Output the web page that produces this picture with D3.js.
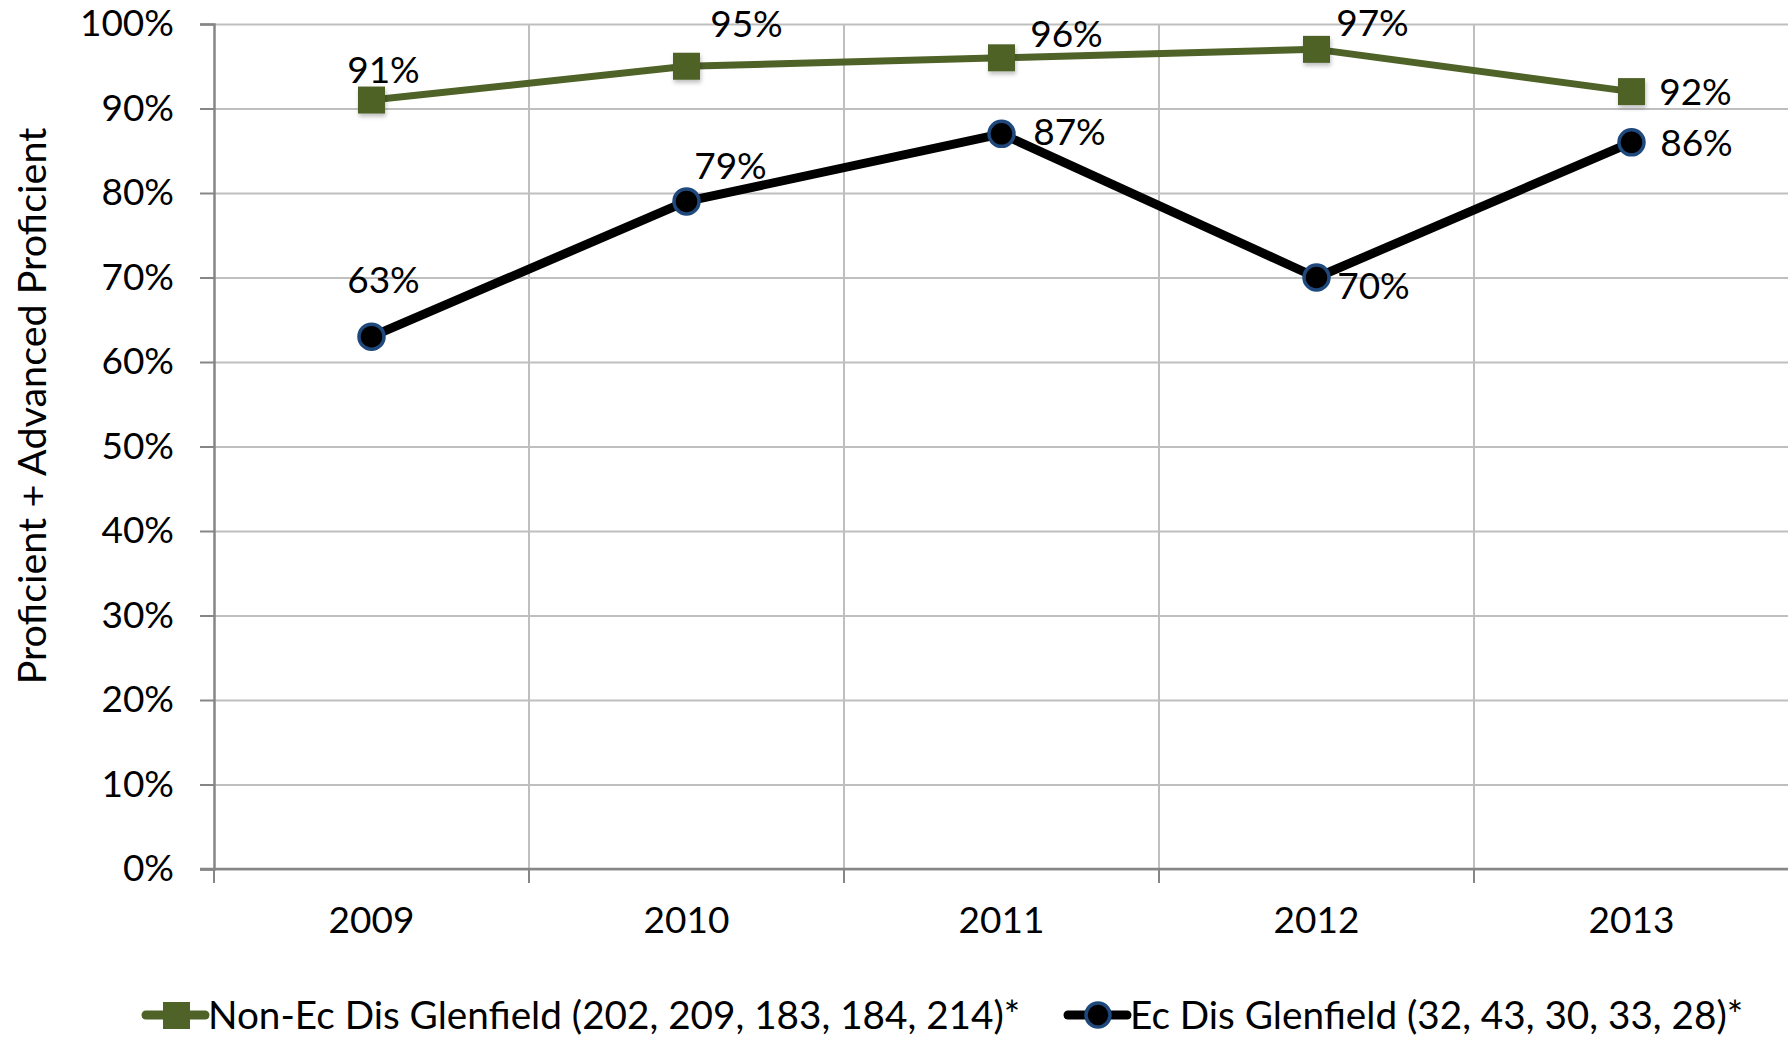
<!DOCTYPE html>
<html lang="en">
<head>
  <meta charset="UTF-8">
  <title>Glenfield proficiency 2009-2013</title>
  <style>
    html,
    body {
      margin: 0;
      padding: 0;
      background: #fff;
    }

    svg text {
      font-family: Lato, "Open Sans", sans-serif;
      fill: #000;
    }
  </style>
</head>
<body>
<div id="chart"></div>

<script src="https://d3js.org/d3.v7.min.js"></script>
<script>
  // values
  const years = ['2009', '2010', '2011', '2012', '2013'];
  const nonEcDis = [0.91, 0.95, 0.96, 0.97, 0.92];
  const ecDis = [0.63, 0.79, 0.87, 0.70, 0.86];
  const seriesNames = [
    'Non-Ec Dis Glenfield (202, 209, 183, 184, 214)*',
    'Ec Dis Glenfield (32, 43, 30, 33, 28)*',
  ];
  const yTicks = [0, 0.1, 0.2, 0.3, 0.4, 0.5, 0.6, 0.7, 0.8, 0.9, 1];

  // where Excel put each data label, relative to its point (px)
  const nonEcLabelOffsets = [[12, -30], [60, -42], [65, -24], [56, -26], [64, 0]];
  const ecLabelOffsets = [[12, -57], [44, -35], [68, -2], [57, 9], [65, 1]];

  const width = 1788;
  const height = 1037;
  const fontSize = 37;
  const green = '#4F6228';
  const blue = '#1F497D';
  const gridColor = '#BFBFBF';
  const axisColor = '#868686';

  const x = d3.scaleBand().domain(years).range([214, 1789]).padding(0);
  const y = d3.scaleLinear().domain([0, 1]).range([869, 24]);

  const svg = d3.select('#chart').append('svg')
    .attr('width', width)
    .attr('height', height);

  const defs = svg.append('defs');
  const shadow = defs.append('filter')
    .attr('id', 'shadow')
    .attr('x', '-30%').attr('y', '-30%')
    .attr('width', '160%').attr('height', '160%');
  shadow.append('feDropShadow')
    .attr('dx', 1).attr('dy', 3)
    .attr('stdDeviation', 2)
    .attr('flood-color', '#000')
    .attr('flood-opacity', 0.25);

  // horizontal grid
  svg.append('g')
    .attr('transform', `translate(${x.range()[0]},0)`)
    .call(d3.axisLeft(y).tickValues(yTicks).tickSize(-(x.range()[1] - x.range()[0])).tickFormat(''))
    .call(g => g.select('.domain').remove())
    .call(g => g.selectAll('line').attr('stroke', gridColor).attr('stroke-width', 2));

  // vertical grid at category boundaries
  const boundaries = years.map(d => x(d)).concat([x.range()[1]]);
  svg.append('g')
    .selectAll('line')
    .data(boundaries.slice(1))
    .join('line')
    .attr('x1', d => d).attr('x2', d => d)
    .attr('y1', y(1)).attr('y2', y(0))
    .attr('stroke', gridColor)
    .attr('stroke-width', 2);

  // y axis
  svg.append('g')
    .attr('transform', `translate(${x.range()[0]},0)`)
    .call(d3.axisLeft(y).tickValues(yTicks).tickFormat(d3.format('.0%')).tickSize(14).tickPadding(26))
    .call(g => g.select('.domain').attr('stroke', axisColor).attr('stroke-width', 2.5))
    .call(g => g.selectAll('.tick line').attr('stroke', axisColor).attr('stroke-width', 2))
    .call(g => g.selectAll('text').attr('font-size', fontSize).attr('font-family', null));

  // x axis: labels centred in bands, ticks at the boundaries
  svg.append('g')
    .attr('transform', `translate(0,${y(0)})`)
    .call(d3.axisBottom(x).tickSize(0).tickPadding(38))
    .call(g => g.select('.domain').remove())
    .call(g => g.selectAll('text').attr('font-size', fontSize).attr('font-family', null));

  svg.append('line')
    .attr('x1', x.range()[0] - 14).attr('x2', x.range()[1])
    .attr('y1', y(0)).attr('y2', y(0))
    .attr('stroke', axisColor)
    .attr('stroke-width', 2.5);

  svg.append('g')
    .selectAll('line')
    .data(boundaries)
    .join('line')
    .attr('x1', d => d).attr('x2', d => d)
    .attr('y1', y(0)).attr('y2', y(0) + 14)
    .attr('stroke', axisColor)
    .attr('stroke-width', 2);

  // y axis title
  svg.append('text')
    .attr('transform', 'translate(32,406) rotate(-90)')
    .attr('text-anchor', 'middle')
    .attr('dy', '0.35em')
    .attr('font-size', 39.5)
    .text('Proficient + Advanced Proficient');

  const line = d3.line()
    .x((d, i) => x(years[i]) + x.bandwidth() / 2)
    .y(d => y(d));

  // Non-Ec Dis series
  svg.append('path')
    .datum(nonEcDis)
    .attr('d', line)
    .attr('fill', 'none')
    .attr('stroke', green)
    .attr('stroke-width', 7)
    .attr('stroke-linejoin', 'round');

  svg.append('g')
    .selectAll('rect')
    .data(nonEcDis)
    .join('rect')
    .attr('x', (d, i) => x(years[i]) + x.bandwidth() / 2 - 13.5)
    .attr('y', d => y(d) - 13.5)
    .attr('width', 27)
    .attr('height', 27)
    .attr('fill', green)
    .attr('filter', 'url(#shadow)');

  // Ec Dis series
  svg.append('path')
    .datum(ecDis)
    .attr('d', line)
    .attr('fill', 'none')
    .attr('stroke', '#000')
    .attr('stroke-width', 9)
    .attr('stroke-linejoin', 'round');

  svg.append('g')
    .selectAll('circle')
    .data(ecDis)
    .join('circle')
    .attr('cx', (d, i) => x(years[i]) + x.bandwidth() / 2)
    .attr('cy', d => y(d))
    .attr('r', 12.5)
    .attr('fill', '#000')
    .attr('stroke', blue)
    .attr('stroke-width', 3.5);

  // data labels
  const fmt = d3.format('.0%');
  const addLabels = (values, offsets) => {
    svg.append('g')
      .selectAll('text')
      .data(values)
      .join('text')
      .attr('x', (d, i) => x(years[i]) + x.bandwidth() / 2 + offsets[i][0])
      .attr('y', (d, i) => y(d) + offsets[i][1])
      .attr('dy', '0.35em')
      .attr('text-anchor', 'middle')
      .attr('font-size', fontSize)
      .text(fmt);
  };
  addLabels(nonEcDis, nonEcLabelOffsets);
  addLabels(ecDis, ecLabelOffsets);

  // legend
  const legendY = 1015;
  const legendFont = 38.7;
  const legend = svg.append('g');

  const item1 = legend.append('g').attr('transform', `translate(146,${legendY})`);
  item1.append('line')
    .attr('x1', 0).attr('x2', 59).attr('y1', 0).attr('y2', 0)
    .attr('stroke', green).attr('stroke-width', 9).attr('stroke-linecap', 'round');
  item1.append('rect')
    .attr('x', 17).attr('y', -13).attr('width', 27).attr('height', 27)
    .attr('fill', green);
  item1.append('text')
    .attr('x', 62).attr('dy', '0.35em')
    .attr('font-size', legendFont)
    .text(seriesNames[0]);

  const item2 = legend.append('g').attr('transform', `translate(1068,${legendY})`);
  item2.append('line')
    .attr('x1', 0).attr('x2', 59).attr('y1', 0).attr('y2', 0)
    .attr('stroke', '#000').attr('stroke-width', 9).attr('stroke-linecap', 'round');
  item2.append('circle')
    .attr('cx', 30).attr('cy', 0).attr('r', 12)
    .attr('fill', '#000').attr('stroke', blue).attr('stroke-width', 3.5);
  item2.append('text')
    .attr('x', 62).attr('dy', '0.35em')
    .attr('font-size', legendFont)
    .text(seriesNames[1]);
</script>
</body>
</html>
